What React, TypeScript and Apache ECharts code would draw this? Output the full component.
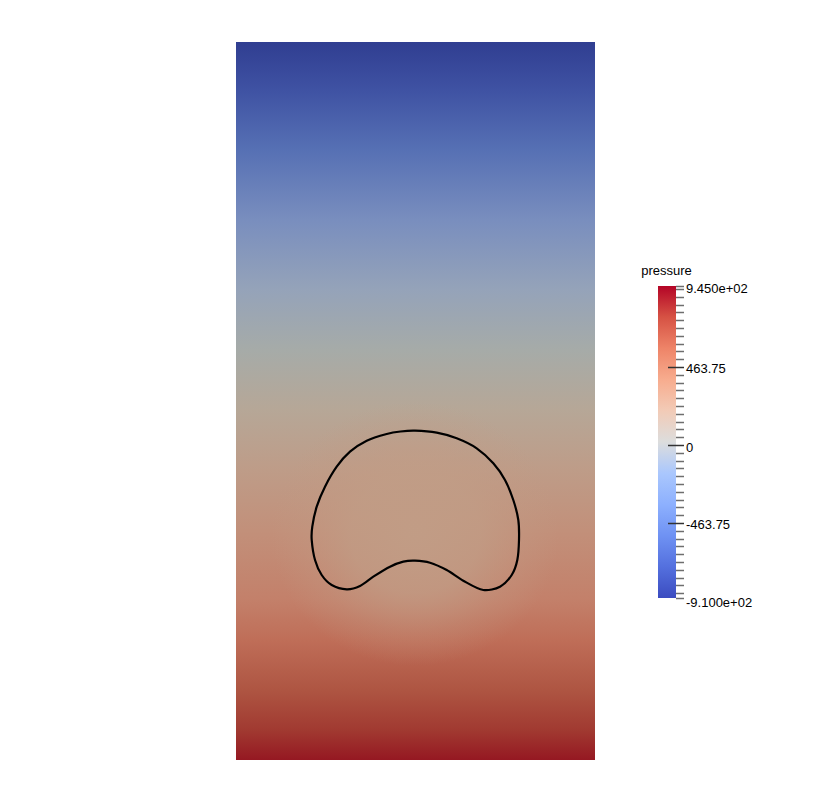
import React, { useEffect, useRef } from "react";
import * as echarts from "echarts";

// Domain: width 1, height 2 (unit box)
const domainX = [0, 1];
const domainY = [0, 2];

// Bubble interface contour (domain coordinates), closed loop
const bubbleX = [0.4986, 0.4582, 0.4198, 0.3641, 0.3175, 0.2805, 0.2479, 0.2248, 0.2125, 0.2109, 0.2201, 0.2387, 0.2666, 0.3084, 0.3454, 0.3825, 0.429, 0.466, 0.4986, 0.5404, 0.5869, 0.6331, 0.6889, 0.7354, 0.768, 0.7836, 0.7883, 0.7864, 0.7724, 0.7493, 0.7167, 0.6705, 0.6148, 0.5591];
const bubbleY = [0.9173, 0.9150, 0.9081, 0.8894, 0.8588, 0.817, 0.7613, 0.7056, 0.6499, 0.6128, 0.5571, 0.5153, 0.4875, 0.4755, 0.4847, 0.5106, 0.5384, 0.5524, 0.5552, 0.5496, 0.5292, 0.4994, 0.4735, 0.4827, 0.5153, 0.5571, 0.6128, 0.6685, 0.7242, 0.7799, 0.8265, 0.8682, 0.8961, 0.9117];

// Pressure field appearance (top -> bottom), sampled colours
const fieldOffsets = [0, 0.067, 0.15, 0.248, 0.345, 0.429, 0.512, 0.596, 0.68, 0.777, 0.833, 0.903, 0.958, 1];
const fieldColors = ["#303E91", "#3F52A3", "#5670B4", "#798EBE", "#95A3B9", "#A6ABA8", "#B6A797", "#BE9C88", "#C2907A", "#C3806A", "#BF6E58", "#AE5542", "#A13A31", "#951822"];

// Halo around the bubble (centre in domain coords, radius in domain units)
const haloCenter = [0.4986, 0.63];
const haloRadius = 0.4;

// Colour bar
const pressureMin = -910;
const pressureMax = 945;
const colorbarT = [0, 0.1, 0.2, 0.3, 0.4, 0.5, 0.6, 0.7, 0.8, 0.9, 1];
const colorbarColors = ["#3b4cc0", "#5470de", "#6f92f3", "#8db0fe", "#aac7fd", "#dcdddd", "#f2cbb7", "#f7ac8e", "#ee8468", "#d65244", "#b40426"];
const minorStep = 46.375;
const majorTickValues = [463.75, 0, -463.75];
const labelValues = [945, 463.75, 0, -463.75, -910];
const labelTexts = ["9.450e+02", "463.75", "0", "-463.75", "-9.100e+02"];
const labelShift = [2, 2, 3, 2, 4];
const colorbarTitle = "pressure";

const FONT = "'Liberation Sans', Arial, sans-serif";

export default function App() {
  const ref = useRef<HTMLDivElement>(null);
  useEffect(() => {
    if (!ref.current) return;
    const chart = echarts.init(ref.current, null, { renderer: "svg" });

    const minorTicks: number[] = [];
    for (let k = Math.ceil(pressureMin / minorStep); k <= Math.floor(pressureMax / minorStep); k++) {
      const v = k * minorStep;
      if (!majorTickValues.some((m) => Math.abs(m - v) < 1e-6)) minorTicks.push(v);
    }
    minorTicks.push(pressureMin, pressureMax);

    const option: any = {
      animation: false,
      backgroundColor: "#ffffff",
      grid: [
        { left: 228, top: 34, width: 359, height: 718 },
        { left: 650, top: 278, width: 18, height: 312 },
      ],
      xAxis: [
        { type: "value", min: domainX[0], max: domainX[1], gridIndex: 0, show: false },
        { type: "value", min: 0, max: 1, gridIndex: 1, show: false },
      ],
      yAxis: [
        { type: "value", min: domainY[0], max: domainY[1], gridIndex: 0, show: false },
        { type: "value", min: pressureMin, max: pressureMax, gridIndex: 1, show: false },
      ],
      series: [
        {
          type: "custom",
          xAxisIndex: 0,
          yAxisIndex: 0,
          silent: true,
          data: [[domainX[0], domainY[0], domainX[1], domainY[1]]],
          renderItem: (params: any, api: any) => {
            const p0 = api.coord([api.value(0), api.value(3)]);
            const p1 = api.coord([api.value(2), api.value(1)]);
            return {
              type: "rect",
              shape: { x: p0[0], y: p0[1], width: p1[0] - p0[0], height: p1[1] - p0[1] },
              style: {
                fill: new echarts.graphic.LinearGradient(
                  0, 0, 0, 1,
                  fieldOffsets.map((o, i) => ({ offset: o, color: fieldColors[i] }))
                ),
              },
            };
          },
        },
        {
          type: "custom",
          xAxisIndex: 0,
          yAxisIndex: 0,
          silent: true,
          data: [[haloCenter[0], haloCenter[1], haloRadius]],
          renderItem: (params: any, api: any) => {
            const c = api.coord([api.value(0), api.value(1)]);
            const r = api.size([api.value(2), 0])[0];
            return {
              type: "ellipse",
              shape: { cx: c[0], cy: c[1], rx: r, ry: r * 0.92 },
              style: {
                fill: new echarts.graphic.RadialGradient(0.5, 0.5, 0.5, [
                  { offset: 0, color: "rgba(193,157,134,0.95)" },
                  { offset: 0.45, color: "rgba(193,157,134,0.75)" },
                  { offset: 0.75, color: "rgba(194,155,132,0.3)" },
                  { offset: 1, color: "rgba(194,155,132,0)" },
                ]),
              },
            };
          },
        },
        {
          type: "custom",
          xAxisIndex: 0,
          yAxisIndex: 0,
          silent: true,
          data: [[bubbleX[0], bubbleY[0]]],
          renderItem: (params: any, api: any) => {
            const pts = bubbleX.map((x, i) => api.coord([x, bubbleY[i]]));
            return {
              type: "polygon",
              shape: { points: pts, smooth: 0.3 },
              style: { fill: "none", stroke: "#000000", lineWidth: 2.2 },
            };
          },
        },
        // colour bar
        {
          type: "custom",
          xAxisIndex: 1,
          yAxisIndex: 1,
          silent: true,
          data: [[0, pressureMin, 1, pressureMax]],
          renderItem: (params: any, api: any) => {
            const p0 = api.coord([api.value(0), api.value(3)]);
            const p1 = api.coord([api.value(2), api.value(1)]);
            return {
              type: "rect",
              shape: { x: p0[0], y: p0[1], width: p1[0] - p0[0], height: p1[1] - p0[1] },
              style: {
                fill: new echarts.graphic.LinearGradient(
                  0, 1, 0, 0,
                  colorbarT.map((t, i) => ({ offset: t, color: colorbarColors[i] }))
                ),
              },
            };
          },
        },
        {
          type: "custom",
          xAxisIndex: 1,
          yAxisIndex: 1,
          silent: true,
          data: minorTicks.map((v) => [1, v]),
          renderItem: (params: any, api: any) => {
            const p = api.coord([api.value(0), api.value(1)]);
            const y = Math.round(p[1]) + 0.5;
            return {
              type: "line",
              shape: { x1: p[0], y1: y, x2: p[0] + 8, y2: y },
              style: { stroke: "#6e6e6e", lineWidth: 1.5 },
            };
          },
        },
        {
          type: "custom",
          xAxisIndex: 1,
          yAxisIndex: 1,
          silent: true,
          data: majorTickValues.map((v) => [1, v]),
          renderItem: (params: any, api: any) => {
            const p = api.coord([api.value(0), api.value(1)]);
            const y = Math.round(p[1]) + 0.5;
            return {
              type: "line",
              shape: { x1: p[0] - 8, y1: y, x2: p[0] + 8, y2: y },
              style: { stroke: "#333333", lineWidth: 1.5 },
            };
          },
        },
        {
          type: "custom",
          xAxisIndex: 1,
          yAxisIndex: 1,
          silent: true,
          data: labelValues.map((v, i) => [1, v, i]),
          renderItem: (params: any, api: any) => {
            const p = api.coord([api.value(0), api.value(1)]);
            const i = api.value(2);
            return {
              type: "text",
              x: p[0] + 10,
              y: p[1] + labelShift[i],
              style: {
                text: labelTexts[i],
                fill: "#000000",
                font: `13px ${FONT}`,
                textAlign: "left",
                textVerticalAlign: "middle",
              },
            };
          },
        },
        {
          type: "custom",
          xAxisIndex: 1,
          yAxisIndex: 1,
          silent: true,
          data: [[0.5, pressureMax]],
          renderItem: (params: any, api: any) => {
            const p = api.coord([api.value(0), api.value(1)]);
            return {
              type: "text",
              x: p[0] - 0.5,
              y: p[1] - 16,
              style: {
                text: colorbarTitle,
                fill: "#000000",
                font: `13px ${FONT}`,
                textAlign: "center",
                textVerticalAlign: "middle",
              },
            };
          },
        },
      ],
    };
    chart.setOption(option);
    return () => chart.dispose();
  }, []);
  return <div ref={ref} style={{ width: 815, height: 786 }} />;
}
